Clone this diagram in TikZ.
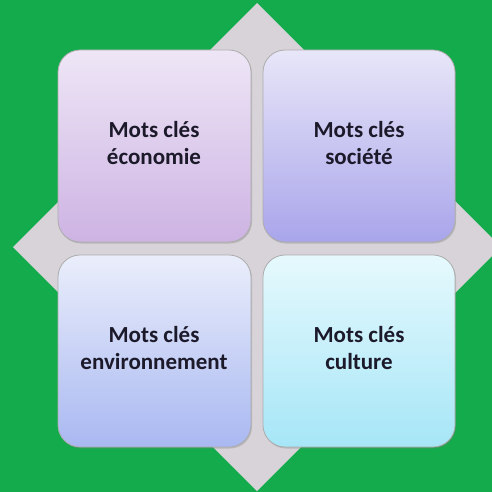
\documentclass[tikz,border=0pt]{standalone}
\usepackage{fontspec}
\setmainfont{Carlito}
\usetikzlibrary{shadows}
\definecolor{bggreen}{HTML}{13AB4B}
\definecolor{diagray}{HTML}{D7D3D9}
\definecolor{tlTop}{HTML}{EEE6F6}
\definecolor{tlBot}{HTML}{CDB3E3}
\definecolor{trTop}{HTML}{E8E6F8}
\definecolor{trBot}{HTML}{A9A5EB}
\definecolor{blTop}{HTML}{EAEEFB}
\definecolor{blBot}{HTML}{A9B8F1}
\definecolor{brTop}{HTML}{E6F9FD}
\definecolor{brBot}{HTML}{A6E6F7}
\definecolor{txt}{HTML}{1C1A2A}
\tikzset{
  card/.style={rounded corners=22pt, draw=gray!65, line width=0.8pt,
    drop shadow={shadow xshift=1pt, shadow yshift=-1.5pt, opacity=0.35}},
  cardtext/.style={align=center, text=txt, font=\fontsize{23}{27}\selectfont\bfseries}
}
\begin{document}
\begin{tikzpicture}[x=1pt,y=-1pt]
\fill[bggreen] (0,0) rectangle (492,492);
\useasboundingbox (0,0) rectangle (492,492);
\fill[diagray] (257,3) -- (501,247) -- (257,491) -- (13,247) -- cycle;
\path[card, top color=tlTop, bottom color=tlBot] (58,50) rectangle (251,242);
\path[card, top color=trTop, bottom color=trBot] (263,50) rectangle (455,242);
\path[card, top color=blTop, bottom color=blBot] (58,255) rectangle (251,447);
\path[card, top color=brTop, bottom color=brBot] (263,255) rectangle (455,447);
\node[cardtext] (eco) at (154,143) {Mots clés\\économie};
\node[cardtext] (soc) at (359,143) {Mots clés\\société};
\node[cardtext] (env) at (154,348) {Mots clés\\environnement};
\node[cardtext] (cul) at (359,348) {Mots clés\\culture};
\end{tikzpicture}
\end{document}
